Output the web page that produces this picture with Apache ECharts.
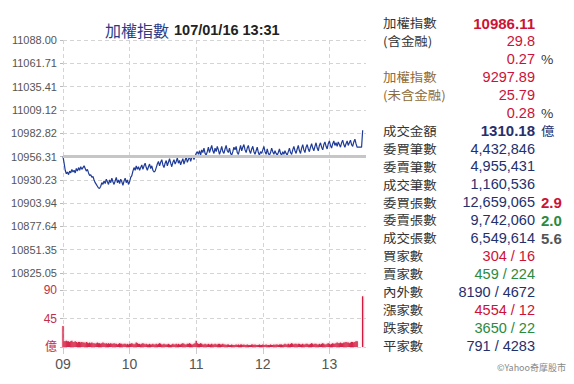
<!DOCTYPE html>
<html><head><meta charset="utf-8">
<script src="https://cdn.jsdelivr.net/npm/echarts@6/dist/echarts.min.js"></script>
<style>html,body{margin:0;padding:0;background:#fff}#c{width:574px;height:384px}</style>
</head><body><div id="c"></div>
<script>
// ---------- DATA ----------
const titleName = '加權指數';
const titleTime = '107/01/16 13:31';
const hourLabels = ['09', '10', '11', '12', '13'];
const priceTickLabels = ['10825.05','10851.35','10877.64','10903.94','10930.23','10956.31','10982.82','11009.12','11035.41','11061.71','11088.00'];
const volumeTickLabels = ['億', '45', '90'];
const volumeTickValues = [0, 45, 90];
const refClose = 10956.31;
// one value per minute from 09:00 to 13:30
const priceData = [
10956.31,10949,10941,10937,10939,10936,10940,10938,10942,10939,
10941,10938,10943,10940,10944,10941,10945,10942,10944,10946,
10943,10940,10942,10938,10935,10936,10933,10934,10930,10927,
10925,10923,10921,10920.6,10923,10927,10925,10929,10926,10931,
10928,10925,10930,10927,10932,10928,10925,10929,10933,10927,
10930,10926,10931,10928,10924,10929,10932,10927,10930,10925,
10928,10933,10935,10940,10944,10941,10946,10942,10945,10941,
10944,10947,10942,10946,10949,10944,10941,10945,10948,10943,
10946,10941,10939,10940,10944,10948,10951,10946,10950,10953,
10947,10944,10949,10952,10946,10950,10954,10949,10945,10950,
10953,10948,10951,10955,10949,10952,10947,10951,10954,10948,
10952,10956,10950,10953,10957,10951,10955,10958,10953,10957,
10960,10962,10959,10963,10958,10964,10961,10966,10960,10958,
10962,10967,10961,10965,10969,10963,10960,10966,10962,10968,
10964,10959,10963,10968,10962,10960,10965,10969,10963,10961,
10966,10960,10958,10962,10967,10964,10968,10961,10959,10964,
10969,10963,10967,10970,10964,10961,10966,10969,10963,10960,
10965,10968,10962,10959,10963,10967,10961,10958,10962,10960,
10964,10968,10962,10959,10965,10960,10958,10961,10966,10962,
10959,10963,10960,10958,10961,10965,10960,10958,10962,10959,
10963,10960,10958,10962,10966,10961,10959,10964,10968,10963,
10960,10965,10969,10963,10960,10966,10970,10964,10961,10967,
10970,10965,10962,10967,10971,10966,10963,10968,10972,10966,
10963,10969,10972,10967,10964,10970,10973,10968,10965,10971,
10974,10969,10966,10971,10974,10969,10972,10968,10973,10970,
10967,10972,10975,10970,10967,10971,10974,10969,10972,10975,
10970,10968,10973,10976,10971,10967,10967,10967,10967,10967,
10986.11
];
const volumeData = [
33,
9,9,10,9,9,8,9,10,8,8,
9,8,7,8,8,7,8,7,7,6,
8,7,6,7,6,7,6,6,5,6,
7,6,6,5,6,7,6,5,6,5,
6,5,6,5,5,6,5,5,4,5,
6,5,5,4,5,5,4,5,4,5,
5,6,5,4,5,7,6,5,5,4,
5,6,5,4,5,4,4,5,4,4,
5,4,4,5,4,5,6,5,4,4,
5,4,4,4,5,4,3,4,5,4,
4,5,4,5,4,4,5,6,5,4,
4,5,5,6,5,4,4,5,6,10,
6,5,5,6,5,4,4,5,4,4,
5,4,4,5,4,4,5,4,4,5,
5,4,4,5,4,4,3,4,4,3,
3,4,3,3,3,4,3,4,3,4,
4,3,4,3,3,4,3,3,3,4,
4,3,4,3,3,3,4,3,3,4,
3,3,4,3,3,3,4,3,3,4,
3,4,4,3,4,4,4,3,4,5,
4,4,5,4,5,6,5,4,5,5,
4,5,5,4,4,5,4,4,5,5,
4,4,5,6,5,4,5,5,4,4,
5,4,5,6,5,4,4,5,6,5,
4,5,6,5,5,6,7,6,6,7,
6,6,7,7,8,7,7,6,7,8,
8,7,8,9,9,0,0,0,0,
80
];
const panelLabels = ['加權指數','(含金融)','','加權指數','(未含金融)','','成交金額','委買筆數','委賣筆數','成交筆數','委買張數','委賣張數','成交張數','買家數','賣家數','內外數','漲家數','跌家數','平家數'];
const panelValues = ['10986.11','29.8','0.27','9297.89','25.79','0.28','1310.18','4,432,846','4,955,431','1,160,536','12,659,065','9,742,060','6,549,614','304 / 16','459 / 224','8190 / 4672','4554 / 12','3650 / 22','791 / 4283'];
const panelUnits = ['','','%','','','%','億','','','','2.9','2.0','5.6','','','','','',''];
const copyright = '©Yahoo奇摩股市';

// ---------- STYLE ----------
const RED = '#cc1236', NAVY = '#24306e', GREEN = '#2b8a3e', BROWN = '#8f6b35', DARK = '#333', GREY5 = '#555';
const labelColor = i => (i === 3 || i === 4) ? BROWN : DARK;
const valueColor = i => {
  if (i <= 5) return RED;
  if (i <= 12) return NAVY;
  return [RED, GREEN, NAVY, RED, GREEN, NAVY][i - 13];
};
const unitColor = i => ({6: NAVY, 10: RED, 11: GREEN, 12: GREY5}[i] || DARK);
const FONT = "'Noto Sans CJK TC','Noto Sans',sans-serif";
const NUMFONT = "'Liberation Sans','Noto Sans CJK TC',sans-serif";

const minuteCount = 274;
const cats = Array.from({length: minuteCount}, (_, i) => i);
const priceTickValues = priceTickLabels.map(Number);
const hourIdx = i => i % 60 === 0;

const graphics = [];
const rowY = i => 23 + i * 17.93;
const LH = 15;
panelLabels.forEach((t, i) => {
  if (t) graphics.push({type: 'text', x: 383, y: rowY(i), scaleX: 1.1, style: {text: t, fill: labelColor(i), font: '12.2px ' + FONT, lineHeight: LH, textAlign: 'left', textVerticalAlign: 'middle'}});
  const bold = (i === 0 || i === 6);
  graphics.push({type: 'text', x: 535, y: rowY(i), style: {text: panelValues[i], fill: valueColor(i), font: (bold ? 'bold 15px ' : '14.5px ') + NUMFONT, lineHeight: LH, textAlign: 'right', textVerticalAlign: 'middle'}});
  if (panelUnits[i]) {
    const u = panelUnits[i];
    const isNum = /\d/.test(u);
    graphics.push({type: 'text', x: 541, y: rowY(i), scaleX: isNum ? 1 : 1.1, style: {text: u, fill: unitColor(i), font: (isNum ? 'bold 15px ' + NUMFONT : '12.2px ' + FONT), lineHeight: LH, textAlign: 'left', textVerticalAlign: 'middle'}});
  }
});
graphics.push({type: 'text', x: 566, y: 367, style: {text: copyright, fill: '#888', font: '9px ' + FONT, textAlign: 'right', textVerticalAlign: 'middle'}});

const dashed = {show: true, lineStyle: {color: '#d4d4d4', type: [4, 3], width: 1}};

const chart = echarts.init(document.getElementById('c'), null, {renderer: 'svg'});
chart.setOption({
  animation: false,
  backgroundColor: '#fff',
  title: {
    left: 100, top: 16,
    text: '{a|' + titleName + '} {b|' + titleTime + '}',
    textStyle: {rich: {
      a: {fontFamily: FONT, fontSize: 16, fontWeight: 'normal', color: '#2a3b88'},
      b: {fontFamily: NUMFONT, fontSize: 14.5, fontWeight: 'bold', color: '#222'}
    }}
  },
  graphic: graphics,
  grid: [
    {left: 63, top: 40, width: 303, height: 233},
    {left: 63, top: 290, width: 303, height: 57},
    {left: 63, top: 40, width: 303, height: 307}
  ],
  xAxis: [
    {gridIndex: 0, type: 'category', data: cats, boundaryGap: false, axisLine: {show: false}, axisTick: {show: false}, axisLabel: {show: false}, splitLine: {show: false}},
    {gridIndex: 1, type: 'category', data: cats, boundaryGap: false, axisLine: {show: false},
     axisTick: {show: true, interval: hourIdx, length: 7, lineStyle: {color: '#ccc'}},
     axisLabel: {show: true, interval: hourIdx, margin: 10, color: GREY5, fontSize: 14, fontFamily: NUMFONT,
       formatter: (v, idx) => hourLabels[Math.round(Number(v) / 60)]},
     splitLine: {show: false}},
    {gridIndex: 2, type: 'category', data: cats, boundaryGap: false, axisLine: {show: false}, axisTick: {show: false}, axisLabel: {show: false},
     splitLine: {show: true, interval: hourIdx, lineStyle: {color: '#d4d4d4', type: [4, 3], width: 1}}}
  ],
  yAxis: [
    {gridIndex: 0, type: 'value', min: priceTickValues[0], max: priceTickValues[priceTickValues.length - 1],
     axisLine: {show: false},
     axisTick: {show: true, length: 3, customValues: priceTickValues, lineStyle: {color: '#bbb'}},
     axisLabel: {show: true, customValues: priceTickValues, margin: 6, color: GREY5, fontSize: 11, fontFamily: NUMFONT,
       formatter: v => priceTickLabels[priceTickValues.reduce((b, t, k) => Math.abs(t - v) < Math.abs(priceTickValues[b] - v) ? k : b, 0)]},
     splitLine: dashed},
    {gridIndex: 1, type: 'value', min: 0, max: 90, interval: 45,
     axisLine: {show: false},
     axisTick: {show: true, length: 3, lineStyle: {color: '#bbb'}},
     axisLabel: {show: true, margin: 6, color: '#c0304a', fontSize: 12, fontFamily: NUMFONT,
       formatter: v => volumeTickLabels[volumeTickValues.indexOf(v)]},
     splitLine: dashed},
    {gridIndex: 2, type: 'value', min: 0, max: 1, show: false}
  ],
  series: [
    {type: 'line', xAxisIndex: 0, yAxisIndex: 0, data: [], z: 1, silent: true,
     markLine: {silent: true, symbol: 'none', label: {show: false}, animation: false,
       lineStyle: {color: '#c6c6c6', width: 3, type: 'solid'}, data: [{yAxis: refClose}]}},
    {type: 'line', xAxisIndex: 0, yAxisIndex: 0, data: priceData, z: 3, symbol: 'none', showSymbol: false,
     lineStyle: {color: '#1f3b97', width: 1.2}},
    {type: 'bar', xAxisIndex: 1, yAxisIndex: 1, data: volumeData, barWidth: 1.3,
     itemStyle: {color: '#d3163d', shadowBlur: 2, shadowColor: 'rgba(235,110,140,0.6)'}}
  ]
});
</script>
</body></html>
